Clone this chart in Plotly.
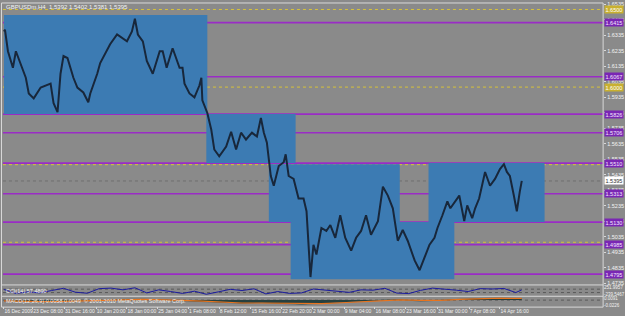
import plotly.graph_objects as go

W, H = 625, 316

# ---------------- data ----------------
bar_idx = [0,1,4,9,12,17,22,25,30,37,47,50,54,57,60,64,67,70,74,80,85,87,94,97,107,114,124,129,132,135,
           140,144,150,157,160,164,170,177,180,182,187,192,197,199,200,205,209,212,217,224,229,234,239,244,250,
           255,259,262,265,269,272,277,282,284,287,292,297,302,305,308,309,312,315,320,325,329,334,339,344,350,
           355,360,365,370,377,382,387,392,397,402,407,414,419,424,429,434,437,442,447,450,455,459,464,467,472,
           475,479,482,485,490,495,500,504,507,510,514,517,520,522]
close = [1.6358,1.6370,1.6231,1.6124,1.6231,1.6149,1.6060,1.5959,1.5927,1.5997,
         1.6022,1.5896,1.5839,1.6086,1.6200,1.6187,1.6124,1.6060,1.5997,1.5965,
         1.5902,1.5959,1.6086,1.6155,1.6276,1.6339,1.6295,1.6358,1.6440,1.6339,
         1.6295,1.6168,1.6086,1.6231,1.6231,1.6124,1.6250,1.6124,1.6124,1.6022,
         1.5959,1.5934,1.6010,1.6060,1.5915,1.5833,1.5725,1.5598,1.5554,1.5617,
         1.5712,1.5598,1.5706,1.5662,1.5706,1.5681,1.5801,1.5706,1.5643,1.5427,
         1.5364,1.5491,1.5516,1.5567,1.5427,1.5408,1.5282,1.5282,1.5200,1.4858,
         1.4776,1.4984,1.4921,1.5092,1.5073,1.5111,1.5029,1.5174,1.5029,1.4946,
         1.5029,1.5073,1.5174,1.5048,1.5136,1.5358,1.5301,1.5219,1.5010,1.5079,
         1.5010,1.4883,1.4820,1.4902,1.4984,1.5029,1.5092,1.5174,1.5263,1.5219,
         1.5263,1.5301,1.5136,1.5238,1.5155,1.5219,1.5282,1.5364,1.5453,1.5364,
         1.5408,1.5472,1.5503,1.5453,1.5427,1.5301,1.5200,1.5326,1.5396]

cci_idx = [0,12,24,36,48,60,72,84,96,108,120,132,144,156,168,180,192,204,216,228,240,252,264,276,288,
           300,312,324,336,348,360,372,384,396,408,420,432,444,456,468,480,492,504,516,522]
cci = [80,-150,-60,-120,20,150,-80,-140,130,160,60,180,-120,60,-40,-150,-20,-200,-60,90,20,120,-180,-40,-150,
       -120,110,40,-30,-90,60,40,150,-130,-160,30,160,120,40,-40,130,110,140,-100,57]

macd_idx = [0,20,40,60,80,100,120,140,160,180,200,220,240,260,280,300,320,340,360,380,400,420,440,460,480,500,522]
macd_hist = [-0.004,-0.006,-0.007,-0.004,-0.003,0.000,0.003,0.004,0.001,-0.003,-0.006,-0.012,-0.013,-0.011,
             -0.014,-0.017,-0.014,-0.008,-0.005,0.000,0.002,-0.004,0.000,0.006,0.007,0.009,0.006]
macd_signal = [-0.003,-0.005,-0.006,-0.005,-0.004,-0.002,0.001,0.003,0.002,-0.001,-0.004,-0.009,-0.012,-0.012,
               -0.013,-0.015,-0.015,-0.011,-0.007,-0.003,0.001,-0.001,-0.001,0.003,0.006,0.008,0.007]

time_ticks = [0,29,61,93,124,155,186,217,249,280,311,343,374,405,437,469,500]
time_labels = ["16 Dec 2009","23 Dec 08:00","31 Dec 16:00","10 Jan 20:00","18 Jan 00:00","25 Jan 04:00",
               "1 Feb 08:00","8 Feb 12:00","15 Feb 16:00","22 Feb 20:00","2 Mar 00:00","9 Mar 04:00",
               "16 Mar 08:00","23 Mar 16:00","31 Mar 00:00","7 Apr 08:00","14 Apr 16:00"]

price_ticks = [1.6535,1.6435,1.6335,1.6235,1.6135,1.6035,1.5935,1.5835,1.5735,1.5635,
               1.5535,1.5435,1.5335,1.5235,1.5135,1.5035,1.4935,1.4835,1.4735]

# range boxes: (start bar, end bar, low, high)
box_x0 = [0, 204, 267, 289, 428]
box_x1 = [205, 294, 399, 454, 545]
box_lo = [1.5826, 1.5510, 1.5130, 1.4762, 1.5130]
box_hi = [1.6465, 1.5826, 1.5503, 1.5130, 1.5510]

level_lines = [1.6415, 1.6067, 1.5826, 1.5706, 1.5510, 1.5313, 1.5130, 1.4985, 1.4795]
round_levels = [1.6500, 1.6000, 1.5500, 1.5000]
labelled_round = [1.6500, 1.6000]
bid = 1.5395

# ---------------- styling ----------------
BG = "#8a8a8a"
BOX = "#3c7bb3"
PURPLE = "#9a2cc6"
YELLOW = "#d6c23a"
TXT = "#f2f2f2"
FONT = "Liberation Sans Narrow, Liberation Sans, DejaVu Sans"

def px(x): return x / W
def py(y): return 1 - y / H

fig = go.Figure()
fig.add_trace(go.Scatter(x=bar_idx, y=close, mode="lines", line=dict(color="#18273b", width=2),
                         xaxis="x", yaxis="y", hoverinfo="skip", showlegend=False))
fig.add_trace(go.Scatter(x=cci_idx, y=cci, mode="lines", line=dict(color="#1c1ca0", width=1),
                         xaxis="x", yaxis="y2", hoverinfo="skip", showlegend=False))
fig.add_trace(go.Scatter(x=macd_idx, y=macd_hist, mode="lines", fill="tozeroy", fillcolor="#26403f",
                         line=dict(color="#26403f", width=0.5), xaxis="x", yaxis="y3",
                         hoverinfo="skip", showlegend=False))
fig.add_trace(go.Scatter(x=macd_idx, y=macd_signal, mode="lines", line=dict(color="#e8741e", width=1.2),
                         xaxis="x", yaxis="y3", hoverinfo="skip", showlegend=False))

shapes = []
for x0, x1, lo, hi in zip(box_x0, box_x1, box_lo, box_hi):
    shapes.append(dict(type="rect", xref="x", yref="y", x0=x0, x1=x1, y0=lo, y1=hi,
                       fillcolor=BOX, line=dict(width=0), layer="below"))
for lv in round_levels:
    shapes.append(dict(type="line", xref="paper", yref="y", x0=px(3), x1=px(607), y0=lv, y1=lv,
                       line=dict(color=YELLOW, width=1, dash="dot"), layer="below"))
for lv in level_lines:
    shapes.append(dict(type="line", xref="paper", yref="y", x0=px(3), x1=px(607), y0=lv, y1=lv,
                       line=dict(color=PURPLE, width=1.6), layer="below"))
shapes.append(dict(type="line", xref="paper", yref="y", x0=px(3), x1=px(607), y0=bid, y1=bid,
                   line=dict(color="#6e6e6e", width=1, dash="dot"), layer="below"))
for lv in [100, -100]:
    shapes.append(dict(type="line", xref="paper", yref="y2", x0=px(3), x1=px(607), y0=lv, y1=lv,
                       line=dict(color="#5a5a5a", width=1, dash="dot"), layer="below"))
shapes.append(dict(type="line", xref="paper", yref="y3", x0=px(3), x1=px(607), y0=0, y1=0,
                   line=dict(color="#5a5a5a", width=1, dash="dot"), layer="below"))
border = "#d8d8d8"
for yy in [1, 287.5, 299, 310]:
    shapes.append(dict(type="line", xref="paper", yref="paper", x0=px(1.5), x1=px(607), y0=py(yy), y1=py(yy),
                       line=dict(color=border, width=1)))
shapes.append(dict(type="line", xref="paper", yref="paper", x0=px(1.5), x1=px(1.5), y0=py(1), y1=py(310),
                   line=dict(color=border, width=1)))
shapes.append(dict(type="line", xref="paper", yref="paper", x0=px(607), x1=px(607), y0=py(1), y1=py(310),
                   line=dict(color=border, width=1)))

annotations = [
    dict(xref="paper", yref="paper", x=px(4), y=py(5.5), xanchor="left", yanchor="middle",
         text="GBPUSDm,H4  1.5392 1.5402 1.5381 1.5395", showarrow=False,
         font=dict(family=FONT, size=6, color=TXT)),
    dict(xref="paper", yref="paper", x=px(4), y=py(293.5), xanchor="left", yanchor="middle",
         text="CCI(14) 57.4890", showarrow=False, font=dict(family=FONT, size=5.5, color=TXT)),
    dict(xref="paper", yref="paper", x=px(4), y=py(304), xanchor="left", yanchor="middle",
         text="MACD(12,26,9) 0.0058 0.0049  © 2001-2010 MetaQuotes Software Corp.", showarrow=False,
         font=dict(family=FONT, size=5.5, color=TXT)),
]
for lv in level_lines:
    annotations.append(dict(xref="paper", yref="y", x=px(608), y=lv, xanchor="left", yanchor="middle",
                            text=f"{lv:.4f}", showarrow=False, bgcolor="#7a26b4", borderpad=0.5,
                            font=dict(family=FONT, size=5.5, color="#f4e8ff")))
for lv in labelled_round:
    annotations.append(dict(xref="paper", yref="y", x=px(608), y=lv, xanchor="left", yanchor="middle",
                            text=f"{lv:.4f}", showarrow=False, bgcolor="#c8b030", borderpad=0.5,
                            font=dict(family=FONT, size=5.5, color="#ffffff")))
annotations.append(dict(xref="paper", yref="y", x=px(608), y=bid, xanchor="left", yanchor="middle",
                        text=f"{bid:.4f}", showarrow=False, bgcolor="#ffffff", borderpad=0.5,
                        font=dict(family=FONT, size=5.5, color="#303030")))

fig.update_layout(
    width=W, height=H, autosize=False,
    margin=dict(l=0, r=0, t=0, b=0),
    paper_bgcolor=BG, plot_bgcolor=BG,
    showlegend=False,
    font=dict(family=FONT, size=6, color=TXT),
    xaxis=dict(domain=[px(3), px(607)], range=[-1, 604], anchor="y3",
               tickvals=time_ticks, ticktext=time_labels, ticklabelposition="outside right",
               tickangle=0, tickfont=dict(size=5, color=TXT, family=FONT), ticks="outside", ticklen=2,
               tickcolor=border, showgrid=False, zeroline=False, showline=False),
    yaxis=dict(domain=[py(286), py(2)], range=[1.47345, 1.65355], side="right", anchor="x",
               tickvals=price_ticks, ticktext=[f"{v:.4f}" for v in price_ticks],
               tickfont=dict(size=5.5, color=TXT, family=FONT), ticks="outside", ticklen=2,
               tickcolor=border, showgrid=False, zeroline=False, showline=False),
    yaxis2=dict(domain=[py(298), py(289)], range=[-260, 260], side="right", anchor="x",
                tickvals=[230, -230], ticktext=["251.9957", "-239.5467"],
                tickfont=dict(size=4.5, color=TXT, family=FONT), ticks="", showgrid=False,
                zeroline=False, showline=False),
    yaxis3=dict(domain=[py(309), py(300)], range=[-0.025, 0.012], side="right", anchor="x",
                tickvals=[0.009, -0.022], ticktext=["0.0091", "-0.0226"],
                tickfont=dict(size=4.5, color=TXT, family=FONT), ticks="", showgrid=False,
                zeroline=False, showline=False),
    shapes=shapes,
    annotations=annotations,
)

fig.write_html("out.html")
